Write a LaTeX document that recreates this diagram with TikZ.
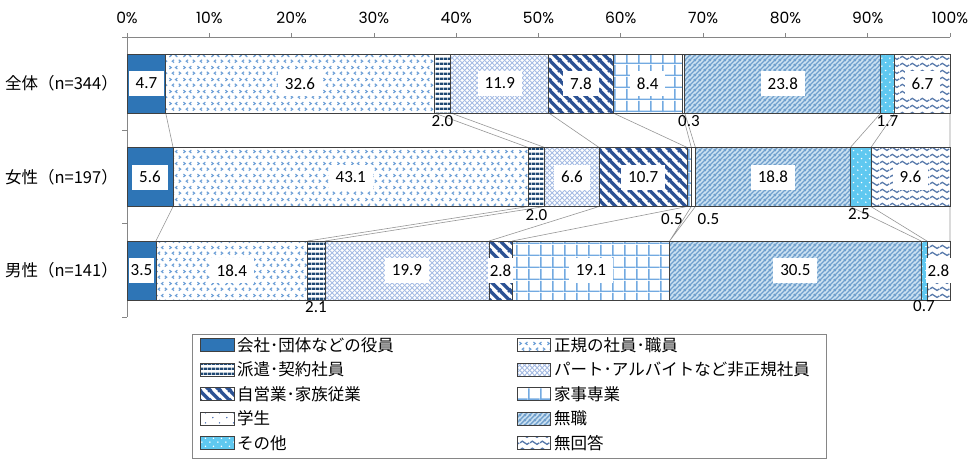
\documentclass[tikz,border=0pt]{standalone}
\usepackage{fontspec}
\setmainfont{Carlito}
\newfontfamily\jpfont{Noto Sans CJK JP}
\newfontfamily\geofont{Poppins}
\usepackage{tikz}
\usetikzlibrary{patterns}
\definecolor{segline}{RGB}{64,64,64}
\definecolor{axgray}{RGB}{134,134,134}
\definecolor{sergray}{RGB}{150,150,150}
\definecolor{cyakuin}{RGB}{46,117,182}
\definecolor{cseiki}{RGB}{110,160,215}
\definecolor{chaken}{RGB}{31,72,115}
\definecolor{cpart}{RGB}{165,188,228}
\definecolor{cjiei}{RGB}{44,82,148}
\definecolor{ckaji}{RGB}{115,170,225}
\definecolor{cgakusei}{RGB}{70,110,180}
\definecolor{cmushoku}{RGB}{112,160,205}
\definecolor{cmushokubg}{RGB}{205,226,242}
\definecolor{csonota}{RGB}{95,200,240}
\definecolor{cmukaito}{RGB}{85,120,170}
% patterns
\pgfdeclarepatternformonly{chevrons}{\pgfqpoint{0pt}{0pt}}{\pgfqpoint{14pt}{12pt}}{\pgfqpoint{14pt}{12pt}}{%
  \pgfsetlinewidth{1.2pt}
  \pgfpathmoveto{\pgfqpoint{1.5pt}{7.5pt}}\pgfpathlineto{\pgfqpoint{3.5pt}{9pt}}\pgfpathlineto{\pgfqpoint{1.5pt}{10.5pt}}
  \pgfpathmoveto{\pgfqpoint{10pt}{7.5pt}}\pgfpathlineto{\pgfqpoint{8pt}{9pt}}\pgfpathlineto{\pgfqpoint{10pt}{10.5pt}}
  \pgfpathmoveto{\pgfqpoint{6.5pt}{1.5pt}}\pgfpathlineto{\pgfqpoint{4.5pt}{3pt}}\pgfpathlineto{\pgfqpoint{6.5pt}{4.5pt}}
  \pgfpathmoveto{\pgfqpoint{11.5pt}{1.5pt}}\pgfpathlineto{\pgfqpoint{13.5pt}{3pt}}\pgfpathlineto{\pgfqpoint{11.5pt}{4.5pt}}
  \pgfusepath{stroke}}
\pgfdeclarepatternformonly{hstripes}{\pgfqpoint{0pt}{0pt}}{\pgfqpoint{4pt}{5pt}}{\pgfqpoint{4pt}{5pt}}{%
  \pgfpathrectangle{\pgfqpoint{0pt}{0pt}}{\pgfqpoint{4pt}{2.7pt}}
  \pgfusepath{fill}}
\pgfdeclarepatternformonly{meshx}{\pgfqpoint{0pt}{0pt}}{\pgfqpoint{5pt}{5pt}}{\pgfqpoint{5pt}{5pt}}{%
  \pgfsetlinewidth{1.1pt}
  \pgfpathmoveto{\pgfqpoint{-1pt}{-1pt}}\pgfpathlineto{\pgfqpoint{6pt}{6pt}}
  \pgfpathmoveto{\pgfqpoint{-1pt}{6pt}}\pgfpathlineto{\pgfqpoint{6pt}{-1pt}}
  \pgfusepath{stroke}}
\pgfdeclarepatternformonly{widediag}{\pgfqpoint{0pt}{0pt}}{\pgfqpoint{10pt}{10pt}}{\pgfqpoint{10pt}{10pt}}{%
  \pgfsetlinewidth{3.6pt}
  \pgfpathmoveto{\pgfqpoint{-1pt}{11pt}}\pgfpathlineto{\pgfqpoint{11pt}{-1pt}}
  \pgfpathmoveto{\pgfqpoint{-1pt}{1pt}}\pgfpathlineto{\pgfqpoint{1pt}{-1pt}}
  \pgfpathmoveto{\pgfqpoint{9pt}{11pt}}\pgfpathlineto{\pgfqpoint{11pt}{9pt}}
  \pgfusepath{stroke}}
\pgfdeclarepatternformonly{boxgrid}{\pgfqpoint{0pt}{0pt}}{\pgfqpoint{12.3pt}{12pt}}{\pgfqpoint{12.3pt}{12pt}}{%
  \pgfsetlinewidth{1.6pt}
  \pgfpathmoveto{\pgfqpoint{0.8pt}{0pt}}\pgfpathlineto{\pgfqpoint{0.8pt}{12pt}}
  \pgfpathmoveto{\pgfqpoint{0pt}{0.8pt}}\pgfpathlineto{\pgfqpoint{12.3pt}{0.8pt}}
  \pgfusepath{stroke}}
\pgfdeclarepatternformonly{sparsedots}{\pgfqpoint{0pt}{0pt}}{\pgfqpoint{14pt}{10pt}}{\pgfqpoint{14pt}{10pt}}{%
  \pgfpathcircle{\pgfqpoint{3pt}{2.5pt}}{0.8pt}
  \pgfpathcircle{\pgfqpoint{10pt}{7.5pt}}{0.8pt}
  \pgfusepath{fill}}
\pgfdeclarepatternformonly{finediag}{\pgfqpoint{0pt}{0pt}}{\pgfqpoint{5pt}{5pt}}{\pgfqpoint{5pt}{5pt}}{%
  \pgfsetlinewidth{1.6pt}
  \pgfpathmoveto{\pgfqpoint{-1pt}{-1pt}}\pgfpathlineto{\pgfqpoint{6pt}{6pt}}
  \pgfpathmoveto{\pgfqpoint{-1pt}{4pt}}\pgfpathlineto{\pgfqpoint{1pt}{6pt}}
  \pgfpathmoveto{\pgfqpoint{4pt}{-1pt}}\pgfpathlineto{\pgfqpoint{6pt}{1pt}}
  \pgfusepath{stroke}}
\pgfdeclarepatternformonly{whitedots}{\pgfqpoint{0pt}{0pt}}{\pgfqpoint{8pt}{8pt}}{\pgfqpoint{8pt}{8pt}}{%
  \pgfpathcircle{\pgfqpoint{2pt}{2pt}}{0.9pt}
  \pgfpathcircle{\pgfqpoint{6pt}{6pt}}{0.9pt}
  \pgfusepath{fill}}
\pgfdeclarepatternformonly{waves}{\pgfqpoint{0pt}{0pt}}{\pgfqpoint{10pt}{7pt}}{\pgfqpoint{10pt}{7pt}}{%
  \pgfsetlinewidth{1.4pt}
  \pgfpathmoveto{\pgfqpoint{0pt}{3.5pt}}
  \pgfpathcurveto{\pgfqpoint{1.7pt}{5.8pt}}{\pgfqpoint{3.3pt}{5.8pt}}{\pgfqpoint{5pt}{3.5pt}}
  \pgfpathcurveto{\pgfqpoint{6.7pt}{1.2pt}}{\pgfqpoint{8.3pt}{1.2pt}}{\pgfqpoint{10pt}{3.5pt}}
  \pgfusepath{stroke}}
\tikzset{
  seg/.style={draw=segline, line width=0.8pt},
  axis/.style={draw=axgray, line width=0.8pt},
  serline/.style={draw=sergray, line width=0.6pt},
  val/.style={fill=white, inner xsep=7pt, inner ysep=0pt, minimum height=25pt, font=\fontsize{17}{19}\selectfont},
  valtight/.style={val, inner xsep=2pt},
  valout/.style={inner sep=0pt, font=\fontsize{17}{19}\selectfont},
  cat/.style={anchor=east, inner sep=0pt, font=\jpfont\fontsize{16.5}{19}\selectfont},
  pct/.style={inner sep=0pt, font=\geofont\fontsize{15.5}{18}\selectfont},
  leg/.style={anchor=west, inner sep=0pt, font=\jpfont\fontsize{16.5}{19}\selectfont},
  pYakuin/.style={fill=cyakuin},
  pSeiki/.style={preaction={fill=white}, pattern=chevrons, pattern color=cseiki},
  pHaken/.style={preaction={fill=white}, pattern=hstripes, pattern color=chaken},
  pPart/.style={preaction={fill=white}, pattern=meshx, pattern color=cpart},
  pJiei/.style={preaction={fill=white}, pattern=widediag, pattern color=cjiei},
  pKaji/.style={preaction={fill=white}, pattern=boxgrid, pattern color=ckaji},
  pGakusei/.style={preaction={fill=white}, pattern=sparsedots, pattern color=cgakusei},
  pMushoku/.style={preaction={fill=cmushokubg}, pattern=finediag, pattern color=cmushoku},
  pSonota/.style={preaction={fill=csonota}, pattern=whitedots, pattern color=white},
  pMukaito/.style={preaction={fill=white}, pattern=waves, pattern color=cmukaito}
}

\begin{document}
\begin{tikzpicture}[x=1pt, y=-1pt]
\useasboundingbox (0,0) rectangle (969,459);

% axes
\draw[axis] (122,37) -- (950,37);
\draw[axis] (127,33) -- (127,317);
\draw[axis] (209.3,33) -- (209.3,37) (291.6,33) -- (291.6,37) (373.9,33) -- (373.9,37) (456.2,33) -- (456.2,37) (538.5,33) -- (538.5,37) (620.8,33) -- (620.8,37) (703.1,33) -- (703.1,37) (785.4,33) -- (785.4,37) (867.7,33) -- (867.7,37) (950,33) -- (950,37);
\draw[axis] (122,130.5) -- (127,130.5) (122,223.5) -- (127,223.5) (122,317) -- (127,317);
\node[pct] (t0) at (127,18) {0\%};
\node[pct] (t10) at (209.3,18) {10\%};
\node[pct] (t20) at (291.6,18) {20\%};
\node[pct] (t30) at (373.9,18) {30\%};
\node[pct] (t40) at (456.2,18) {40\%};
\node[pct] (t50) at (538.5,18) {50\%};
\node[pct] (t60) at (620.8,18) {60\%};
\node[pct] (t70) at (703.1,18) {70\%};
\node[pct] (t80) at (785.4,18) {80\%};
\node[pct] (t90) at (867.7,18) {90\%};
\node[pct] (t100) at (950,18) {100\%};

\node[cat] (zentai) at (118,83.5) {全体（n=344）};
\node[cat] (josei) at (118,177) {女性（n=197）};
\node[cat] (dansei) at (118,270.5) {男性（n=141）};

% series lines
\draw[serline] (165.7,113) -- (173.1,147.5) (434.3,113) -- (528.2,147.5) (450.8,113) -- (544.7,147.5) (548.8,113) -- (599.1,147.5) (613.1,113) -- (687.2,147.5) (682.3,113) -- (691.3,147.5) (684.7,113) -- (695.4,147.5) (880.8,113) -- (850.3,147.5) (894.8,113) -- (870.9,147.5) (950,113) -- (950,147.5);
\draw[serline] (173.1,206.5) -- (155.9,241) (528.2,206.5) -- (307.6,241) (544.7,206.5) -- (324.9,241) (599.1,206.5) -- (489,241) (687.2,206.5) -- (512.1,241) (691.3,206.5) -- (669.6,241) (695.4,206.5) -- (669.6,241) (850.3,206.5) -- (921.1,241) (870.9,206.5) -- (926.9,241) (950,206.5) -- (950,241);

% zentai
\begin{scope}[yshift=-54pt]
\draw[seg, pYakuin] (127,0) rectangle (165.7,59);
\draw[seg, pSeiki] (165.7,0) rectangle (434.3,59);
\draw[seg, pHaken] (434.3,0) rectangle (450.8,59);
\draw[seg, pPart] (450.8,0) rectangle (548.8,59);
\draw[seg, pJiei] (548.8,0) rectangle (613.1,59);
\draw[seg, pKaji] (613.1,0) rectangle (682.3,59);
\draw[seg, pGakusei] (682.3,0) rectangle (684.7,59);
\draw[seg, pMushoku] (684.7,0) rectangle (880.8,59);
\draw[seg, pSonota] (880.8,0) rectangle (894.8,59);
\draw[seg, pMukaito] (894.8,0) rectangle (950,59);
\node[val] (z1) at (146.4,29.5) {4.7};
\node[val] (z2) at (300,29.5) {32.6};
\node[valout] (z3) at (442.5,67.5) {2.0};
\node[val] (z4) at (499.8,29.5) {11.9};
\node[val] (z5) at (581,29.5) {7.8};
\node[val] (z6) at (647.7,29.5) {8.4};
\node[valout] (z7) at (689,67.5) {0.3};
\node[val] (z8) at (782.8,29.5) {23.8};
\node[valout] (z9) at (887.5,67.5) {1.7};
\node[val] (z10) at (922.4,29.5) {6.7};
\end{scope}

% josei
\begin{scope}[yshift=-147.5pt]
\draw[seg, pYakuin] (127,0) rectangle (173.1,59);
\draw[seg, pSeiki] (173.1,0) rectangle (528.2,59);
\draw[seg, pHaken] (528.2,0) rectangle (544.7,59);
\draw[seg, pPart] (544.7,0) rectangle (599.1,59);
\draw[seg, pJiei] (599.1,0) rectangle (687.2,59);
\draw[seg, pKaji] (687.2,0) rectangle (691.3,59);
\draw[seg, pGakusei] (691.3,0) rectangle (695.4,59);
\draw[seg, pMushoku] (695.4,0) rectangle (850.3,59);
\draw[seg, pSonota] (850.3,0) rectangle (870.9,59);
\draw[seg, pMukaito] (870.9,0) rectangle (950,59);
\node[val] (j1) at (150,29.5) {5.6};
\node[val] (j2) at (350.7,29.5) {43.1};
\node[valout] (j3) at (536.5,67.5) {2.0};
\node[val] (j4) at (571.9,29.5) {6.6};
\node[val] (j5) at (643.2,29.5) {10.7};
\node[valout] (j6) at (672,71.5) {0.5};
\node[valout] (j7) at (708.5,71.5) {0.5};
\node[val] (j8) at (772.9,29.5) {18.8};
\node[valout] (j9) at (859,67) {2.5};
\node[val] (j10) at (910.5,29.5) {9.6};
\end{scope}

% dansei
\begin{scope}[yshift=-241pt]
\draw[seg, pYakuin] (127,0) rectangle (155.9,59);
\draw[seg, pSeiki] (155.9,0) rectangle (307.6,59);
\draw[seg, pHaken] (307.6,0) rectangle (324.9,59);
\draw[seg, pPart] (324.9,0) rectangle (489,59);
\draw[seg, pJiei] (489,0) rectangle (512.1,59);
\draw[seg, pKaji] (512.1,0) rectangle (669.6,59);
\draw[seg, pMushoku] (669.6,0) rectangle (921.1,59);
\draw[seg, pSonota] (921.1,0) rectangle (926.9,59);
\draw[seg, pMukaito] (926.9,0) rectangle (950,59);
\node[valtight] (d1) at (141.5,29.5) {3.5};
\node[val] (d2) at (231.8,29.5) {18.4};
\node[valout] (d3) at (316,66.5) {2.1};
\node[val] (d4) at (407,29.5) {19.9};
\node[valtight] (d5) at (500.6,29.5) {2.8};
\node[val] (d6) at (590.9,29.5) {19.1};
\node[val] (d8) at (795.4,29.5) {30.5};
\node[valout] (d9) at (924,65.5) {0.7};
\node[valtight] (d10) at (938.5,29.5) {2.8};
\end{scope}

% legend
\draw[axis] (192,334) rectangle (826,458);
\draw[seg, pYakuin] (200,338.5) rectangle (234,351.5);
\draw[seg, pHaken] (200,363) rectangle (234,376);
\draw[seg, pJiei] (200,387.5) rectangle (234,400.5);
\draw[seg, pGakusei] (200,412) rectangle (234,425);
\draw[seg, pSonota] (200,436.5) rectangle (234,449.5);
\draw[seg, pSeiki] (517,338.5) rectangle (550,351.5);
\draw[seg, pPart] (517,363) rectangle (550,376);
\draw[seg, pKaji] (517,387.5) rectangle (550,400.5);
\draw[seg, pMushoku] (517,412) rectangle (550,425);
\draw[seg, pMukaito] (517,436.5) rectangle (550,449.5);
\node[leg] (lg1) at (237,345) {会社･団体などの役員};
\node[leg] (lg3) at (237,369.5) {派遣･契約社員};
\node[leg] (lg5) at (237,394) {自営業･家族従業};
\node[leg] (lg7) at (237,418.5) {学生};
\node[leg] (lg9) at (237,443) {その他};
\node[leg] (lg2) at (554,345) {正規の社員･職員};
\node[leg] (lg4) at (554,369.5) {パート･アルバイトなど非正規社員};
\node[leg] (lg6) at (554,394) {家事専業};
\node[leg] (lg8) at (554,418.5) {無職};
\node[leg] (lg10) at (554,443) {無回答};
\end{tikzpicture}
\end{document}
